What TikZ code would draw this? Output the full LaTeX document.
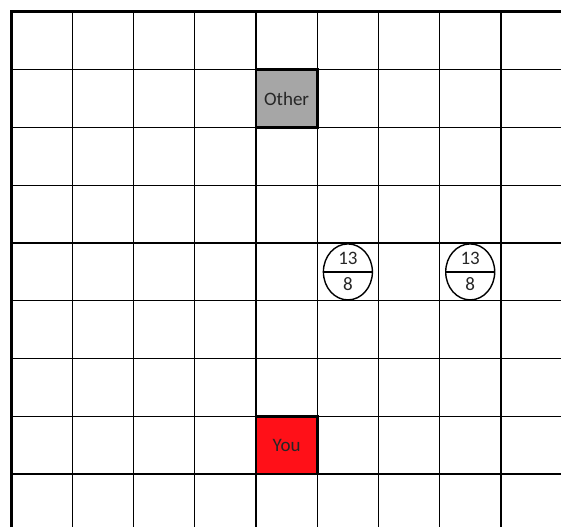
\documentclass[tikz,border=0pt]{standalone}
\usepackage{fontspec}
\setmainfont{Carlito}
\usetikzlibrary{shapes.geometric}
\definecolor{othergray}{RGB}{166,166,166}
\definecolor{youred}{RGB}{255,16,24}
\tikzset{
  gridline/.style={line width=1.3pt, black},
  borderline/.style={line width=3pt, black},
  playerbox/.style={draw, line width=2.8pt, minimum width=61.25pt, minimum height=57.75pt, inner sep=0pt, font=\fontsize{19}{22}\selectfont, text=black!85},
  coinshape/.style={ellipse, draw, line width=1.4pt, minimum width=49pt, minimum height=56pt, inner sep=0pt, fill=white},
  cointext/.style={font=\fontsize{19}{22}\selectfont, inner sep=0pt, text=black!85}
}
\begin{document}
\begin{tikzpicture}[x=1pt,y=-1pt]
\useasboundingbox (0,0) rectangle (561,527);
\fill[white] (0,0) rectangle (561,527);
% grid
\foreach \i in {1,...,8} \draw[gridline] ({11+61.25*\i},12) -- ({11+61.25*\i},527);
\foreach \j in {1,...,8} \draw[gridline] (11,{12+57.75*\j}) -- (561,{12+57.75*\j});
\draw[borderline] (11,527) -- (11,12) -- (561,12);
% players
\node[playerbox, fill=othergray] (other) at (286.6,98.6) {Other};
\node[playerbox, fill=youred] (you) at (286.6,445.1) {You};
% coins
\node[coinshape] (c1) at (347.9,271.9) {};
\draw[line width=1.4pt] (c1.west) -- (c1.east);
\node[cointext] (c1top) at ([yshift=13.5pt]c1.center) {13};
\node[cointext] (c1bot) at ([yshift=-12.5pt]c1.center) {8};
\node[coinshape] (c2) at (470.2,271.9) {};
\draw[line width=1.4pt] (c2.west) -- (c2.east);
\node[cointext] (c2top) at ([yshift=13.5pt]c2.center) {13};
\node[cointext] (c2bot) at ([yshift=-12.5pt]c2.center) {8};
\end{tikzpicture}
\end{document}
